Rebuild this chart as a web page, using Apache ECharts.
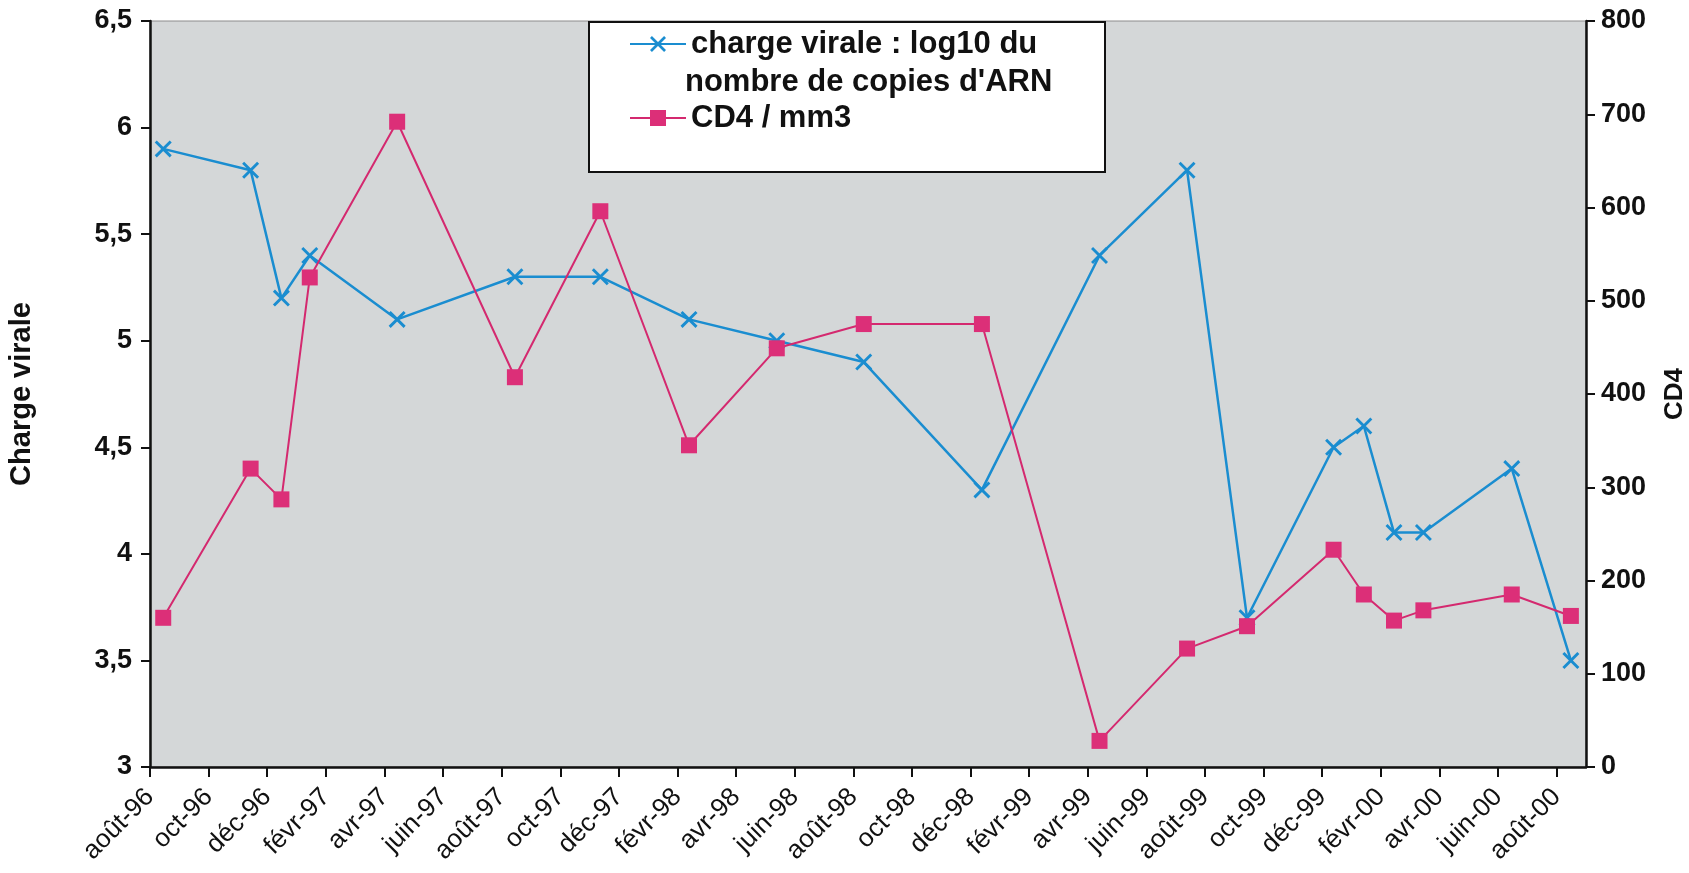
<!DOCTYPE html>
<html>
<head>
<meta charset="utf-8">
<script src="https://cdn.jsdelivr.net/npm/echarts@6/dist/echarts.min.js"></script>
<style>
html,body{margin:0;padding:0;background:#ffffff;}
#c{width:1689px;height:873px;}
</style>
</head>
<body>
<div id="c"></div>
<script>
// ---- data ----
const tickLabels = ['août-96','oct-96','déc-96','févr-97','avr-97','juin-97','août-97','oct-97','déc-97',
  'févr-98','avr-98','juin-98','août-98','oct-98','déc-98','févr-99','avr-99','juin-99','août-99',
  'oct-99','déc-99','févr-00','avr-00','juin-00','août-00'];
const sampleDates = ['1996-08-15','1996-11-14','1996-12-16','1997-01-15','1997-04-14','1997-08-15',
  '1997-11-12','1998-02-12','1998-05-13','1998-08-12','1998-12-13','1999-04-13','1999-07-13',
  '1999-09-14','1999-12-13','2000-01-14','2000-02-14','2000-03-15','2000-06-15','2000-08-16'];
const chargeVirale = [5.9, 5.8, 5.2, 5.4, 5.1, 5.3, 5.3, 5.1, 5.0, 4.9, 4.3, 5.4, 5.8, 3.7, 4.5, 4.6, 4.1, 4.1, 4.4, 3.5];
const cd4 = [160, 320, 287, 525, 692, 418, 596, 345, 449, 475, 475, 28, 127, 151, 233, 185, 157, 168, 185, 162];
const seriesNames = ['charge virale : log10 du', 'CD4 / mm3'];
const legendSecondLine = "nombre de copies d'ARN";

// months elapsed since 1 Aug 1996 (axis origin)
function monthIndex(s) {
  const p = s.split('-').map(Number);
  const dim = new Date(p[0], p[1], 0).getDate();
  return (p[0] - 1996) * 12 + (p[1] - 8) + (p[2] - 1) / dim;
}
const xs = sampleDates.map(monthIndex);
const tickValues = tickLabels.map((_, i) => i * 2);

const FONT = "'Liberation Sans', Arial, sans-serif";
const BLUE = '#1a8dd0';
const PINK = '#d4296f';
const INK = '#111111';
const X_SYMBOL = 'path://M0,1.2L1.2,0L10,8.8L8.8,10Z M8.8,0L10,1.2L1.2,10L0,8.8Z';

const chart = echarts.init(document.getElementById('c'), null, {renderer: 'canvas'});
chart.setOption({
  animation: false,
  backgroundColor: '#ffffff',
  textStyle: {fontFamily: FONT},
  grid: {
    left: 150, right: 103, top: 21, bottom: 106,
    outerBoundsMode: 'none', containLabel: false,
    show: true, backgroundColor: '#d4d7d8', borderColor: '#8c8c8c', borderWidth: 1
  },
  xAxis: {
    type: 'value', min: 0, max: 49,
    axisLine: {show: true, onZero: false, lineStyle: {color: INK, width: 2.5}},
    axisTick: {show: true, customValues: tickValues, length: 10, lineStyle: {color: INK, width: 2}},
    axisLabel: {
      customValues: tickValues, rotate: 45, margin: 26,
      fontSize: 26, color: INK, fontFamily: FONT,
      formatter: v => tickLabels[Math.round(v / 2)] || ''
    },
    splitLine: {show: false}
  },
  yAxis: [{
    type: 'value', min: 3, max: 6.5, interval: 0.5, position: 'left',
    axisLine: {show: true, lineStyle: {color: INK, width: 2.5}},
    axisTick: {show: true, length: 9, lineStyle: {color: INK, width: 2}},
    axisLabel: {fontSize: 27, fontWeight: 'bold', color: INK, margin: 18, fontFamily: FONT,
      formatter: v => String(v).replace('.', ',')},
    splitLine: {show: false},
    name: 'Charge virale', nameLocation: 'middle', nameRotate: 90, nameGap: 114,
    nameTextStyle: {fontSize: 29, fontWeight: 'bold', color: INK, fontFamily: FONT}
  }, {
    type: 'value', min: 0, max: 800, interval: 100, position: 'right',
    axisLine: {show: true, lineStyle: {color: INK, width: 2.5}},
    axisTick: {show: true, length: 9, lineStyle: {color: INK, width: 2}},
    axisLabel: {fontSize: 27, fontWeight: 'bold', color: INK, margin: 15, fontFamily: FONT},
    splitLine: {show: false},
    name: 'CD4', nameLocation: 'middle', nameRotate: 90, nameGap: 76,
    nameTextStyle: {fontSize: 26, fontWeight: 'bold', color: INK, fontFamily: FONT}
  }],
  legend: {
    orient: 'vertical', left: 624, top: 21, itemGap: 38,
    itemWidth: 56, itemHeight: 20,
    textStyle: {fontSize: 31, fontWeight: 'bold', color: INK, fontFamily: FONT, lineHeight: 36},
    data: seriesNames, z: 10
  },
  graphic: [{
    type: 'rect', left: 588, top: 21, z: 5,
    shape: {width: 516, height: 150},
    style: {fill: '#ffffff', stroke: INK, lineWidth: 2}
  }, {
    type: 'text', left: 685, top: 67, z: 11,
    style: {text: legendSecondLine, fontSize: 31, fontWeight: 'bold', fill: INK, fontFamily: FONT}
  }],
  series: [{
    name: seriesNames[0], type: 'line', yAxisIndex: 0,
    data: xs.map((x, i) => [x, chargeVirale[i]]),
    symbol: X_SYMBOL, symbolSize: 17,
    lineStyle: {color: BLUE, width: 2.5},
    itemStyle: {color: BLUE},
    z: 2
  }, {
    name: seriesNames[1], type: 'line', yAxisIndex: 1,
    data: xs.map((x, i) => [x, cd4[i]]),
    symbol: 'rect', symbolSize: 16,
    lineStyle: {color: PINK, width: 2},
    itemStyle: {color: '#dc2f78'},
    z: 3
  }]
});
</script>
</body>
</html>
